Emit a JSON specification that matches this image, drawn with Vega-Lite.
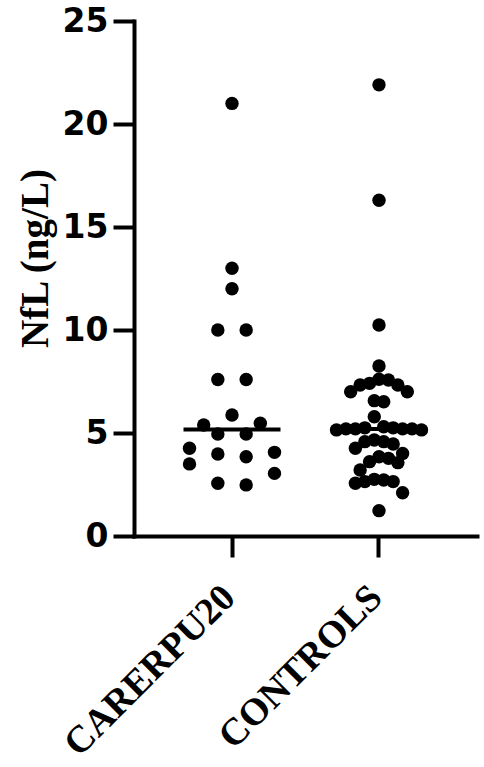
{
  "$schema": "https://vega.github.io/schema/vega-lite/v6.json",
  "autosize": "none",
  "width": 343,
  "height": 515,
  "padding": {"left": 134, "top": 21, "right": 7, "bottom": 231},
  "background": "white",
  "config": {
    "view": {"stroke": null},
    "axis": {
      "grid": false,
      "domainColor": "black",
      "domainWidth": 4,
      "domainCap": "square",
      "tickColor": "black",
      "tickWidth": 4,
      "tickSize": 21,
      "labelColor": "black",
      "titleColor": "black",
      "labelLimit": 0
    }
  },
  "data": {
    "values": [
      {"group": "CARERPU20", "nfl": 21.0},
      {"group": "CARERPU20", "nfl": 13.0},
      {"group": "CARERPU20", "nfl": 12.0},
      {"group": "CARERPU20", "nfl": 10.0},
      {"group": "CARERPU20", "nfl": 10.0},
      {"group": "CARERPU20", "nfl": 7.6},
      {"group": "CARERPU20", "nfl": 7.6},
      {"group": "CARERPU20", "nfl": 5.87},
      {"group": "CARERPU20", "nfl": 5.39},
      {"group": "CARERPU20", "nfl": 5.47},
      {"group": "CARERPU20", "nfl": 4.95},
      {"group": "CARERPU20", "nfl": 4.95},
      {"group": "CARERPU20", "nfl": 4.26},
      {"group": "CARERPU20", "nfl": 4.06},
      {"group": "CARERPU20", "nfl": 3.85},
      {"group": "CARERPU20", "nfl": 3.98},
      {"group": "CARERPU20", "nfl": 3.5},
      {"group": "CARERPU20", "nfl": 3.04},
      {"group": "CARERPU20", "nfl": 2.48},
      {"group": "CARERPU20", "nfl": 2.56},
      {"group": "CONTROLS", "nfl": 21.9},
      {"group": "CONTROLS", "nfl": 16.3},
      {"group": "CONTROLS", "nfl": 10.24},
      {"group": "CONTROLS", "nfl": 8.25},
      {"group": "CONTROLS", "nfl": 7.57},
      {"group": "CONTROLS", "nfl": 7.33},
      {"group": "CONTROLS", "nfl": 7.61},
      {"group": "CONTROLS", "nfl": 7.33},
      {"group": "CONTROLS", "nfl": 7.41},
      {"group": "CONTROLS", "nfl": 7.0},
      {"group": "CONTROLS", "nfl": 7.0},
      {"group": "CONTROLS", "nfl": 6.57},
      {"group": "CONTROLS", "nfl": 6.52},
      {"group": "CONTROLS", "nfl": 5.79},
      {"group": "CONTROLS", "nfl": 5.15},
      {"group": "CONTROLS", "nfl": 5.2},
      {"group": "CONTROLS", "nfl": 5.2},
      {"group": "CONTROLS", "nfl": 5.25},
      {"group": "CONTROLS", "nfl": 5.3},
      {"group": "CONTROLS", "nfl": 5.25},
      {"group": "CONTROLS", "nfl": 5.2},
      {"group": "CONTROLS", "nfl": 5.2},
      {"group": "CONTROLS", "nfl": 5.15},
      {"group": "CONTROLS", "nfl": 4.58},
      {"group": "CONTROLS", "nfl": 4.66},
      {"group": "CONTROLS", "nfl": 4.58},
      {"group": "CONTROLS", "nfl": 4.47},
      {"group": "CONTROLS", "nfl": 4.26},
      {"group": "CONTROLS", "nfl": 4.01},
      {"group": "CONTROLS", "nfl": 3.77},
      {"group": "CONTROLS", "nfl": 3.85},
      {"group": "CONTROLS", "nfl": 3.61},
      {"group": "CONTROLS", "nfl": 3.56},
      {"group": "CONTROLS", "nfl": 3.2},
      {"group": "CONTROLS", "nfl": 2.72},
      {"group": "CONTROLS", "nfl": 2.56},
      {"group": "CONTROLS", "nfl": 2.64},
      {"group": "CONTROLS", "nfl": 2.64},
      {"group": "CONTROLS", "nfl": 2.75},
      {"group": "CONTROLS", "nfl": 2.1},
      {"group": "CONTROLS", "nfl": 1.23}
    ]
  },
  "encoding": {
    "x": {
      "field": "group",
      "type": "nominal",
      "sort": ["CARERPU20", "CONTROLS"],
      "scale": {"paddingInner": 0, "paddingOuter": 0.1667},
      "axis": {
        "title": null,
        "labelAngle": -45,
        "labelAlign": "right",
        "labelBaseline": "top",
        "labelPadding": 21,
        "labelOffset": -16,
        "labelFont": "Liberation Serif",
        "labelFontWeight": "bold",
        "labelFontSize": 38
      }
    },
    "y": {
      "field": "nfl",
      "type": "quantitative",
      "scale": {"domain": [0, 25], "nice": false, "zero": true},
      "axis": {
        "title": "NfL (ng/L)",
        "values": [0, 5, 10, 15, 20, 25],
        "labelFont": "DejaVu Sans",
        "labelFontWeight": "bold",
        "labelFontSize": 33,
        "labelPadding": 5,
        "titleFont": "Liberation Serif",
        "titleFontWeight": "bold",
        "titleFontSize": 39,
        "titlePadding": 7,
        "titleY": 237
      }
    }
  },
  "layer": [
    {
      "mark": {"type": "tick", "orient": "horizontal", "size": 97, "thickness": 4, "color": "black"},
      "encoding": {
        "y": {"aggregate": "median", "field": "nfl", "type": "quantitative"}
      }
    },
    {
      "transform": [
        {"calculate": "floor(datum.nfl)", "as": "row"},
        {"window": [{"op": "row_number", "as": "k"}], "groupby": ["group", "row"], "sort": [{"field": "nfl", "order": "descending"}]},
        {"joinaggregate": [{"op": "count", "as": "n"}], "groupby": ["group", "row"]},
        {"joinaggregate": [{"op": "max", "field": "n", "as": "nmax"}], "groupby": ["group"]},
        {"calculate": "datum.n % 2 == 1 ? ((datum.k - 1) % 2 == 1 ? 1 : -1) * ceil((datum.k - 1) / 2) : ((datum.k - 1) % 2 == 0 ? -1 : 1) * (floor((datum.k - 1) / 2) + 0.5)", "as": "slot"},
        {"calculate": "datum.nmax > 1 ? datum.slot / (datum.nmax - 1) : 0", "as": "off"}
      ],
      "mark": {"type": "circle", "size": 180, "color": "black", "opacity": 1},
      "encoding": {
        "xOffset": {"field": "off", "type": "quantitative", "scale": {"domain": [-0.865, 0.865]}}
      }
    }
  ]
}
